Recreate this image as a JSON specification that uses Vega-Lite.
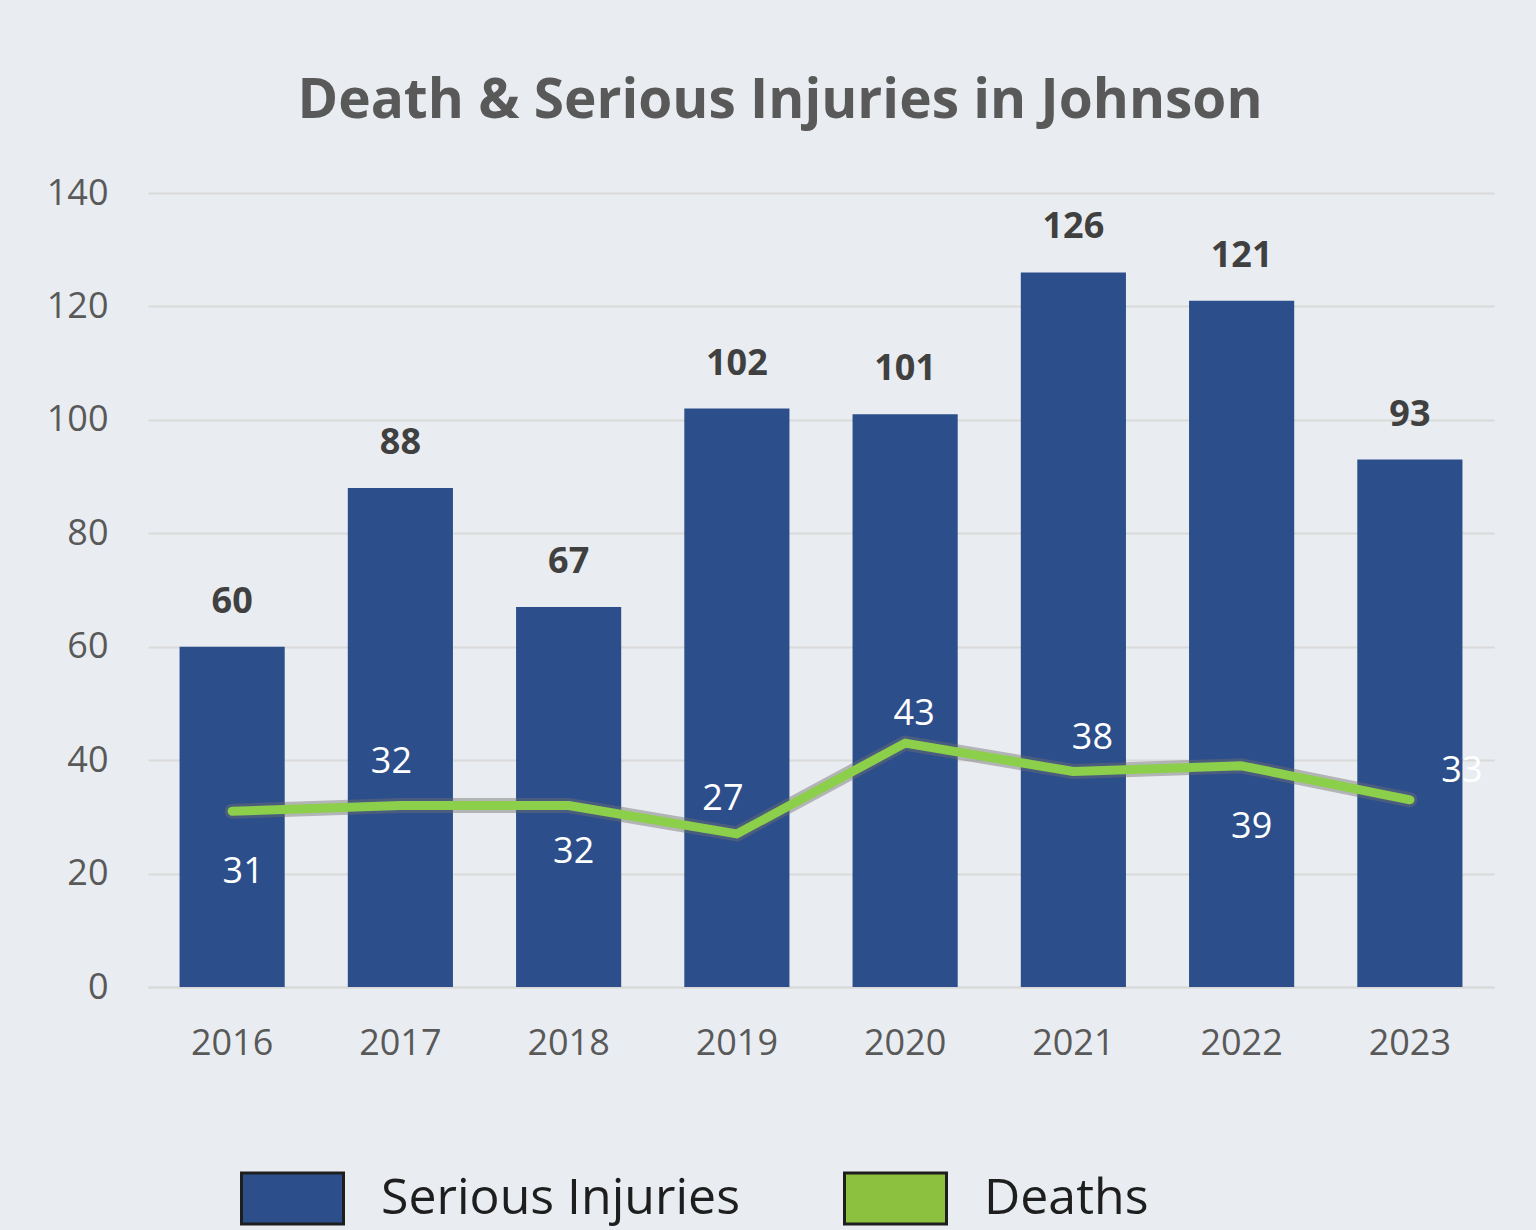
{
  "$schema": "https://vega.github.io/schema/vega-lite/v6.json",
  "width": 1346,
  "height": 794,
  "autosize": {"type": "none"},
  "padding": {"left": 148, "top": 193, "right": 42, "bottom": 243},
  "background": "#e9edf1",
  "title": {
    "text": "Death & Serious Injuries in Johnson",
    "font": "Open Sans",
    "fontSize": 55,
    "fontWeight": "bold",
    "color": "#595959",
    "anchor": "middle",
    "dx": -41,
    "baseline": "alphabetic",
    "offset": 2
  },
  "config": {
    "view": {"stroke": null},
    "font": "Open Sans"
  },
  "data": {
    "values": [
      {"year": "2016", "injuries": 60, "deaths": 31},
      {"year": "2017", "injuries": 88, "deaths": 32},
      {"year": "2018", "injuries": 67, "deaths": 32},
      {"year": "2019", "injuries": 102, "deaths": 27},
      {"year": "2020", "injuries": 101, "deaths": 43},
      {"year": "2021", "injuries": 126, "deaths": 38},
      {"year": "2022", "injuries": 121, "deaths": 39},
      {"year": "2023", "injuries": 93, "deaths": 33}
    ]
  },
  "encoding": {
    "x": {
      "field": "year",
      "type": "nominal",
      "scale": {"paddingInner": 0.375, "paddingOuter": 0.1875},
      "axis": {
        "title": null,
        "labelAngle": 0,
        "labelFontSize": 36,
        "labelColor": "#595959",
        "labelPadding": 39,
        "ticks": false,
        "domainColor": "#d9d9d9",
        "domainWidth": 2
      }
    }
  },
  "layer": [
    {
      "mark": {"type": "bar"},
      "encoding": {
        "y": {
          "field": "injuries",
          "type": "quantitative",
          "scale": {"domain": [0, 140]},
          "axis": {
            "title": null,
            "values": [0, 20, 40, 60, 80, 100, 120, 140],
            "labelFontSize": 36,
            "labelColor": "#595959",
            "labelPadding": 40,
            "ticks": false,
            "domain": false,
            "gridColor": "#d9d9d9",
            "gridWidth": 2
          }
        },
        "color": {
          "datum": "Serious Injuries",
          "scale": {"domain": ["Serious Injuries", "Deaths"], "range": ["#2c4f8c", "#8bc13f"]},
          "legend": {
            "title": null,
            "orient": "none",
            "direction": "horizontal",
            "legendX": 92,
            "legendY": 953,
            "symbolType": "M-1,-0.5H1V0.5H-1Z",
            "symbolSize": 10404,
            "symbolStrokeColor": "#1e1e1e",
            "symbolStrokeWidth": 3,
            "symbolOpacity": 1,
            "labelFontSize": 50,
            "labelColor": "#1e1e1e",
            "labelOffset": 36,
            "labelLimit": 700,
            "columnPadding": 98
          }
        }
      }
    },
    {
      "mark": {"type": "text", "baseline": "bottom", "dy": -26, "fontSize": 36, "fontWeight": "bold", "color": "#404040"},
      "encoding": {
        "y": {"field": "injuries", "type": "quantitative"},
        "text": {"field": "injuries", "type": "quantitative"}
      }
    },
    {
      "mark": {"type": "line", "color": "#6e6e6e", "strokeWidth": 15, "opacity": 0.45, "strokeCap": "round", "strokeJoin": "round"},
      "encoding": {"y": {"field": "deaths", "type": "quantitative"}}
    },
    {
      "mark": {"type": "line", "color": "#8ccf4a", "strokeWidth": 9, "strokeCap": "round", "strokeJoin": "round"},
      "encoding": {"y": {"field": "deaths", "type": "quantitative"}}
    },
    {
      "transform": [{"filter": "datum.year == '2016'"}],
      "mark": {"type": "text", "baseline": "middle", "dx": 11, "dy": 61, "fontSize": 36, "color": "white"},
      "encoding": {"y": {"field": "deaths", "type": "quantitative"}, "text": {"field": "deaths", "type": "quantitative"}}
    },
    {
      "transform": [{"filter": "datum.year == '2017'"}],
      "mark": {"type": "text", "baseline": "middle", "dx": -9, "dy": -44, "fontSize": 36, "color": "white"},
      "encoding": {"y": {"field": "deaths", "type": "quantitative"}, "text": {"field": "deaths", "type": "quantitative"}}
    },
    {
      "transform": [{"filter": "datum.year == '2018'"}],
      "mark": {"type": "text", "baseline": "middle", "dx": 5, "dy": 46, "fontSize": 36, "color": "white"},
      "encoding": {"y": {"field": "deaths", "type": "quantitative"}, "text": {"field": "deaths", "type": "quantitative"}}
    },
    {
      "transform": [{"filter": "datum.year == '2019'"}],
      "mark": {"type": "text", "baseline": "middle", "dx": -14, "dy": -35, "fontSize": 36, "color": "white"},
      "encoding": {"y": {"field": "deaths", "type": "quantitative"}, "text": {"field": "deaths", "type": "quantitative"}}
    },
    {
      "transform": [{"filter": "datum.year == '2020'"}],
      "mark": {"type": "text", "baseline": "middle", "dx": 9, "dy": -29, "fontSize": 36, "color": "white"},
      "encoding": {"y": {"field": "deaths", "type": "quantitative"}, "text": {"field": "deaths", "type": "quantitative"}}
    },
    {
      "transform": [{"filter": "datum.year == '2021'"}],
      "mark": {"type": "text", "baseline": "middle", "dx": 19, "dy": -33, "fontSize": 36, "color": "white"},
      "encoding": {"y": {"field": "deaths", "type": "quantitative"}, "text": {"field": "deaths", "type": "quantitative"}}
    },
    {
      "transform": [{"filter": "datum.year == '2022'"}],
      "mark": {"type": "text", "baseline": "middle", "dx": 10, "dy": 61, "fontSize": 36, "color": "white"},
      "encoding": {"y": {"field": "deaths", "type": "quantitative"}, "text": {"field": "deaths", "type": "quantitative"}}
    },
    {
      "transform": [{"filter": "datum.year == '2023'"}],
      "mark": {"type": "text", "baseline": "middle", "dx": 52, "dy": -29, "fontSize": 36, "color": "white"},
      "encoding": {"y": {"field": "deaths", "type": "quantitative"}, "text": {"field": "deaths", "type": "quantitative"}}
    }
  ]
}
